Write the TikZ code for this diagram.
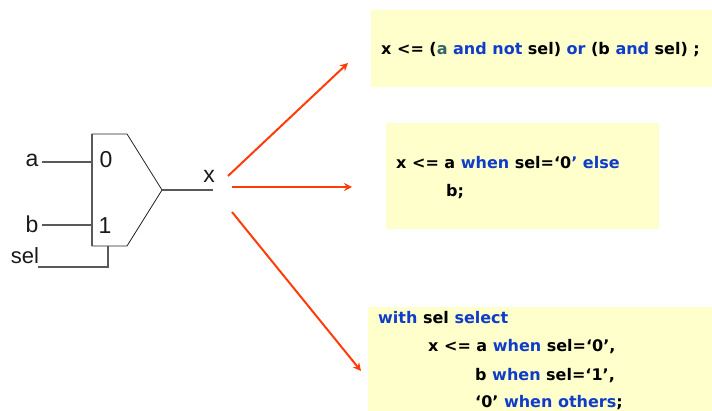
\documentclass[tikz,border=0pt]{standalone}
\usepackage{fontspec}
\setmainfont{DejaVu Sans}
\newfontfamily\labelfont{Liberation Sans}
\usepackage{tikz}
\usetikzlibrary{arrows.meta}

\definecolor{notebg}{HTML}{FFFFCC}
\definecolor{kwblue}{HTML}{0F3CC9}
\definecolor{arrowred}{HTML}{FF3C0A}
\definecolor{sigteal}{HTML}{336666}

\newcommand{\kw}[1]{\textcolor{kwblue}{#1}}

\begin{document}
\begin{tikzpicture}[x=1pt,y=-1pt,
    wire/.style={draw=black!65,line width=1.1pt},
    muxbody/.style={draw=black!85,line width=0.8pt},
    pin/.style={font=\labelfont\fontsize{23}{23}\selectfont,inner sep=0pt,text=black!90},
    note/.style={fill=notebg,draw=none},
    code/.style={anchor=west,inner sep=0pt,font=\bfseries\fontsize{16}{18}\selectfont},
    fan/.style={draw=arrowred,line width=2pt,-{Stealth[length=8pt,width=8pt]}}]

  \useasboundingbox (0,0) rectangle (712,411);

  % boxes behind the code
  \fill[note] (371,10) rectangle (712,87);
  \fill[note] (386,123) rectangle (659,229);
  \fill[note] (368,307) rectangle (712,411);

  % mux
  \coordinate (muxa) at (92,162);
  \coordinate (muxb) at (92,225);
  \coordinate (muxs) at (108,246);
  \coordinate (muxo) at (162,190);
  \draw[muxbody] (92,134) -- (127,134) -- (muxo) -- (127,246) -- (92,246) -- cycle;
  \draw[wire] (92,134) -- (92,246);

  \node[pin] (lbl0) at (106,160) {0};
  \node[pin] (lbl1) at (105,226) {1};
  \node[pin] (a) at (32,160) {a};
  \node[pin] (b) at (32,224) {b};
  \node[pin,font=\labelfont\fontsize{22}{22}\selectfont] (sel) at (25,256) {sel};
  \node[pin] (x) at (209,176) {x};

  \coordinate (ain) at (42,162);
  \coordinate (bin) at (42,225);
  \coordinate (sin) at (38,267);
  \coordinate (xout) at (213,190);

  \draw[wire] (ain) -- (muxa);
  \draw[wire] (bin) -- (muxb);
  \draw[wire] (sin) -| (muxs);
  \draw[wire] (muxo) -- (xout);

  % arrows
  \coordinate (s1) at (228,176);
  \coordinate (e1) at (348,63);
  \coordinate (s2) at (232,187);
  \coordinate (e2) at (352,187);
  \coordinate (s3) at (232,212);
  \coordinate (e3) at (361,371);
  \foreach \i in {1,2,3} {
    \draw[fan] (s\i) -- (e\i);
  }

  % code
  \node[code] (when1) at (381,50)
    {x <= (\textcolor{sigteal}{a} \kw{and not} sel) \kw{or} (b \kw{and} sel) ;};

  \node[code] (when2) at (396,162.5) {x <= a \kw{when} sel=‘0\kw{’ else}};
  \node[code] (when3) at (446,192) {b;};

  \node[code] (with1) at (378,318) {\kw{with} sel \kw{select}};
  \node[code] (with2) at (428,347) {x <= a \kw{when} sel=‘0’,};
  \node[code] (with3) at (475,375.5) {b \kw{when} sel=‘1’,};
  \node[code] (with4) at (475,402.5) {‘0’ \kw{when others};};

\end{tikzpicture}
\end{document}
